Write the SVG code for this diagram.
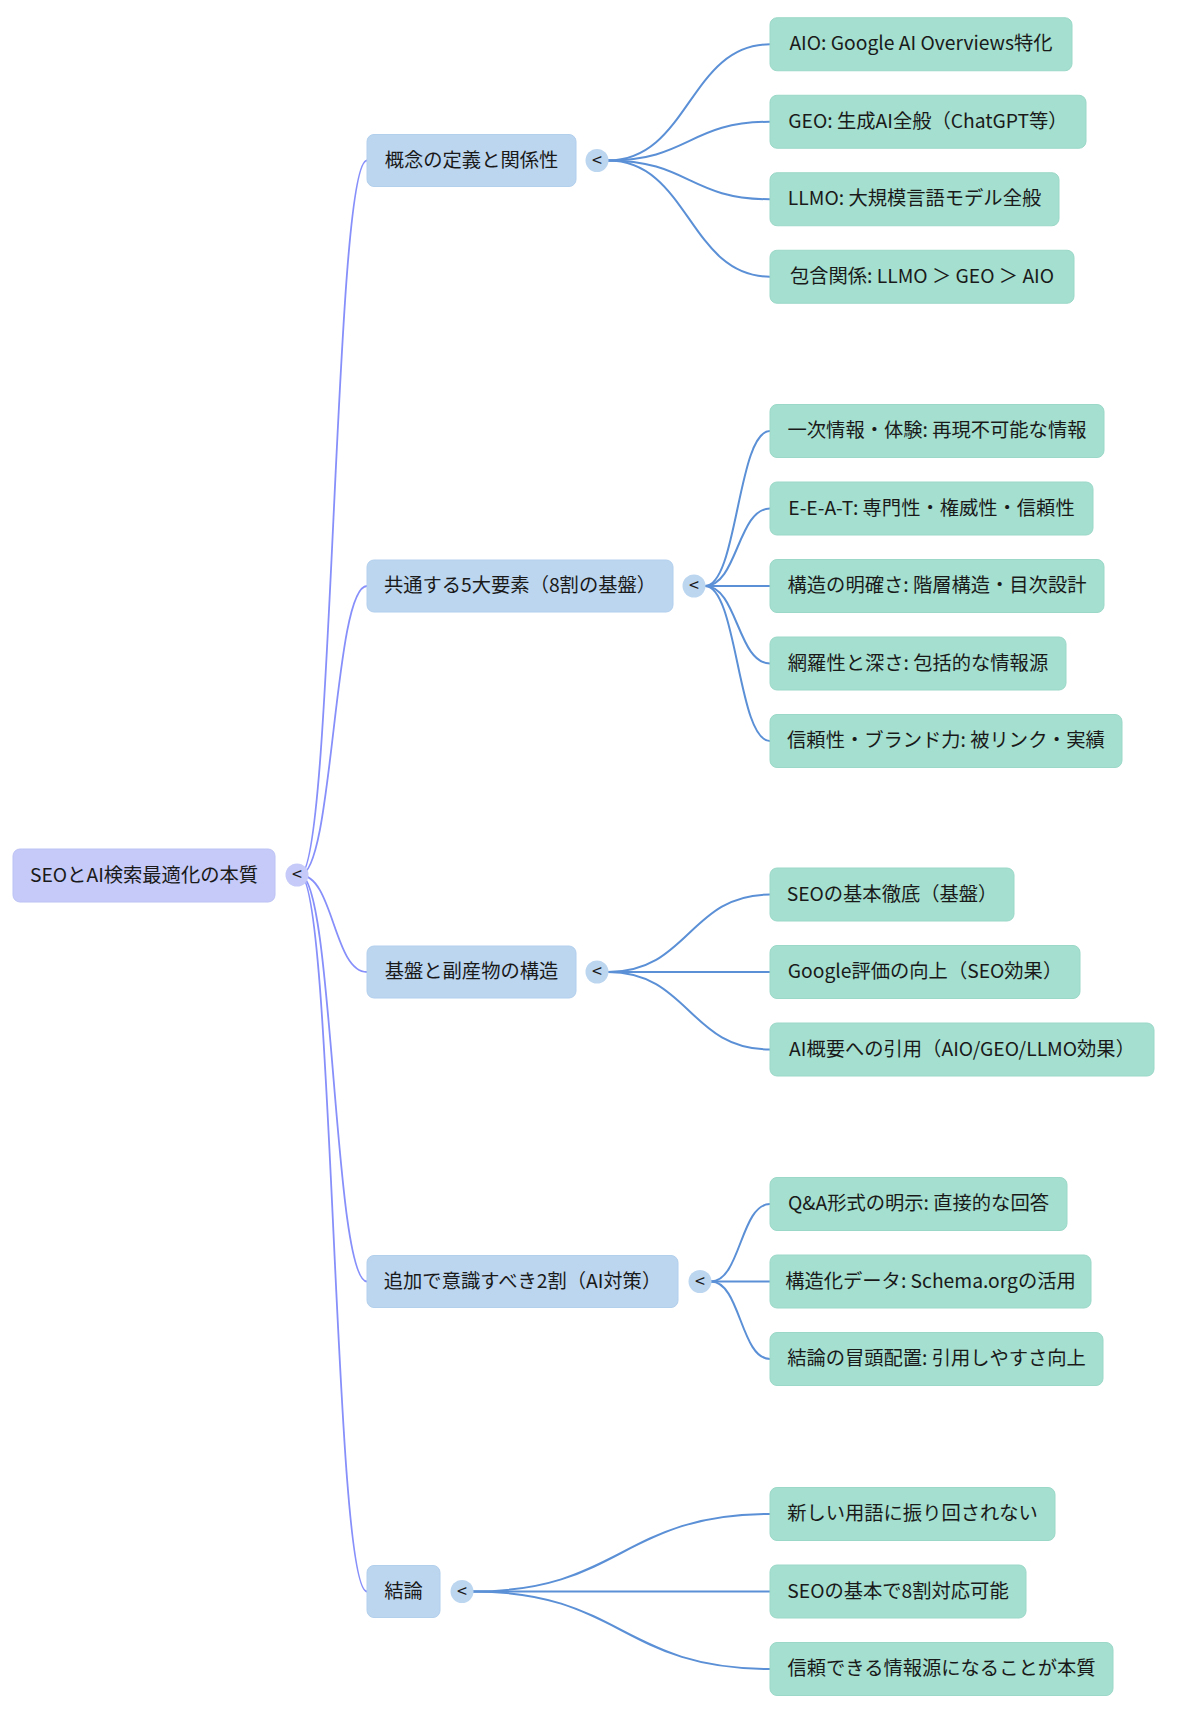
<svg xmlns="http://www.w3.org/2000/svg" width="1200" height="1713" viewBox="0 0 1200 1713">
<style>
text{font-family:"Noto Sans CJK JP","Noto Sans",sans-serif;font-size:19.3px;fill:#1a1a1a;dominant-baseline:central;text-anchor:middle}
.root rect{fill:#c5caf8;stroke:#bcc2f4;stroke-width:1}
.l1 rect{fill:#bcd6f0;stroke:#b2cfec;stroke-width:1}
.l2 rect{fill:#a4dfcf;stroke:#9bd8c7;stroke-width:1}
.tog circle{fill:#bcd6f0}
.tog.r circle{fill:#c5caf8}
.tog text{font-size:18px}
.e0 path{fill:none;stroke:#8790fa;stroke-width:1.8}
.e1 path{fill:none;stroke:#5b90d6;stroke-width:2}
</style>
<g id="connectors">
<g class="e0">
<path d="M300,875 C333.5,875 333.5,160.5 367,160.5"/>
<path d="M300,875 C333.5,875 333.5,586 367,586"/>
<path d="M300,875 C333.5,875 333.5,972 367,972"/>
<path d="M300,875 C333.5,875 333.5,1281.5 367,1281.5"/>
<path d="M300,875 C333.5,875 333.5,1591.5 367,1591.5"/>
</g>
<g class="e1">
<path d="M608,160.5 C689,160.5 689,44.25 770,44.25"/>
<path d="M608,160.5 C689,160.5 689,121.75 770,121.75"/>
<path d="M608,160.5 C689,160.5 689,199.25 770,199.25"/>
<path d="M608,160.5 C689,160.5 689,276.75 770,276.75"/>
<path d="M705,586 C737.5,586 737.5,431 770,431"/>
<path d="M705,586 C737.5,586 737.5,508.5 770,508.5"/>
<path d="M705,586 L770,586"/>
<path d="M705,586 C737.5,586 737.5,663.5 770,663.5"/>
<path d="M705,586 C737.5,586 737.5,741 770,741"/>
<path d="M608,972 C689,972 689,894.5 770,894.5"/>
<path d="M608,972 L770,972"/>
<path d="M608,972 C689,972 689,1049.5 770,1049.5"/>
<path d="M711,1281.5 C740.5,1281.5 740.5,1204 770,1204"/>
<path d="M711,1281.5 L770,1281.5"/>
<path d="M711,1281.5 C740.5,1281.5 740.5,1359 770,1359"/>
<path d="M473,1591.5 C621.5,1591.5 621.5,1514 770,1514"/>
<path d="M473,1591.5 L770,1591.5"/>
<path d="M473,1591.5 C621.5,1591.5 621.5,1669 770,1669"/>
</g>
</g>
<g id="root" class="root"><rect x="13" y="849" width="262" height="53" rx="7"/><text x="144" y="873.5">SEOとAI検索最適化の本質</text></g>
<g id="root-toggle" class="tog r"><circle cx="297" cy="875" r="11.5"/><text x="297" y="873">&lt;</text></g>

<g id="n1" class="l1"><rect x="367" y="134.5" width="209" height="52" rx="7"/><text x="471.5" y="158.5">概念の定義と関係性</text></g>
<g id="n1-toggle" class="tog"><circle cx="597" cy="160.5" r="11.5"/><text x="597" y="158.5">&lt;</text></g>
<g id="n2" class="l1"><rect x="367" y="560" width="306" height="52" rx="7"/><text x="520" y="584">共通する5大要素（8割の基盤）</text></g>
<g id="n2-toggle" class="tog"><circle cx="694" cy="586" r="11.5"/><text x="694" y="584">&lt;</text></g>
<g id="n3" class="l1"><rect x="367" y="946" width="209" height="52" rx="7"/><text x="471.5" y="970">基盤と副産物の構造</text></g>
<g id="n3-toggle" class="tog"><circle cx="597" cy="972" r="11.5"/><text x="597" y="970">&lt;</text></g>
<g id="n4" class="l1"><rect x="367" y="1255.5" width="311" height="52" rx="7"/><text x="522.5" y="1279.5">追加で意識すべき2割（AI対策）</text></g>
<g id="n4-toggle" class="tog"><circle cx="700" cy="1281.5" r="11.5"/><text x="700" y="1279.5">&lt;</text></g>
<g id="n5" class="l1"><rect x="367" y="1565.5" width="73" height="52" rx="7"/><text x="403.5" y="1589.5">結論</text></g>
<g id="n5-toggle" class="tog"><circle cx="462" cy="1591.5" r="11.5"/><text x="462" y="1589.5">&lt;</text></g>

<g id="n1a" class="l2"><rect x="770" y="17.75" width="302" height="53" rx="7"/><text x="921" y="42.25">AIO: Google AI Overviews特化</text></g>
<g id="n1b" class="l2"><rect x="770" y="95.25" width="316" height="53" rx="7"/><text x="928" y="119.75">GEO: 生成AI全般（ChatGPT等）</text></g>
<g id="n1c" class="l2"><rect x="770" y="172.75" width="289" height="53" rx="7"/><text x="914.5" y="197.25">LLMO: 大規模言語モデル全般</text></g>
<g id="n1d" class="l2"><rect x="770" y="250.25" width="304" height="53" rx="7"/><text x="922" y="274.75">包含関係: LLMO ＞ GEO ＞ AIO</text></g>

<g id="n2a" class="l2"><rect x="770" y="404.5" width="334" height="53" rx="7"/><text x="937" y="429">一次情報・体験: 再現不可能な情報</text></g>
<g id="n2b" class="l2"><rect x="770" y="482" width="323" height="53" rx="7"/><text x="931.5" y="506.5">E-E-A-T: 専門性・権威性・信頼性</text></g>
<g id="n2c" class="l2"><rect x="770" y="559.5" width="334" height="53" rx="7"/><text x="937" y="584">構造の明確さ: 階層構造・目次設計</text></g>
<g id="n2d" class="l2"><rect x="770" y="637" width="296" height="53" rx="7"/><text x="918" y="661.5">網羅性と深さ: 包括的な情報源</text></g>
<g id="n2e" class="l2"><rect x="770" y="714.5" width="352" height="53" rx="7"/><text x="946" y="739">信頼性・ブランド力: 被リンク・実績</text></g>

<g id="n3a" class="l2"><rect x="770" y="868" width="244" height="53" rx="7"/><text x="892" y="892.5">SEOの基本徹底（基盤）</text></g>
<g id="n3b" class="l2"><rect x="770" y="945.5" width="310" height="53" rx="7"/><text x="925" y="970">Google評価の向上（SEO効果）</text></g>
<g id="n3c" class="l2"><rect x="770" y="1023" width="384" height="53" rx="7"/><text x="962" y="1047.5">AI概要への引用（AIO/GEO/LLMO効果）</text></g>

<g id="n4a" class="l2"><rect x="770" y="1177.5" width="297" height="53" rx="7"/><text x="918.5" y="1202">Q&amp;A形式の明示: 直接的な回答</text></g>
<g id="n4b" class="l2"><rect x="770" y="1255" width="321" height="53" rx="7"/><text x="930.5" y="1279.5">構造化データ: Schema.orgの活用</text></g>
<g id="n4c" class="l2"><rect x="770" y="1332.5" width="333" height="53" rx="7"/><text x="936.5" y="1357">結論の冒頭配置: 引用しやすさ向上</text></g>

<g id="n5a" class="l2"><rect x="770" y="1487.5" width="285" height="53" rx="7"/><text x="912.5" y="1512">新しい用語に振り回されない</text></g>
<g id="n5b" class="l2"><rect x="770" y="1565" width="256" height="53" rx="7"/><text x="898" y="1589.5">SEOの基本で8割対応可能</text></g>
<g id="n5c" class="l2"><rect x="770" y="1642.5" width="343" height="53" rx="7"/><text x="941.5" y="1667">信頼できる情報源になることが本質</text></g>
</svg>
